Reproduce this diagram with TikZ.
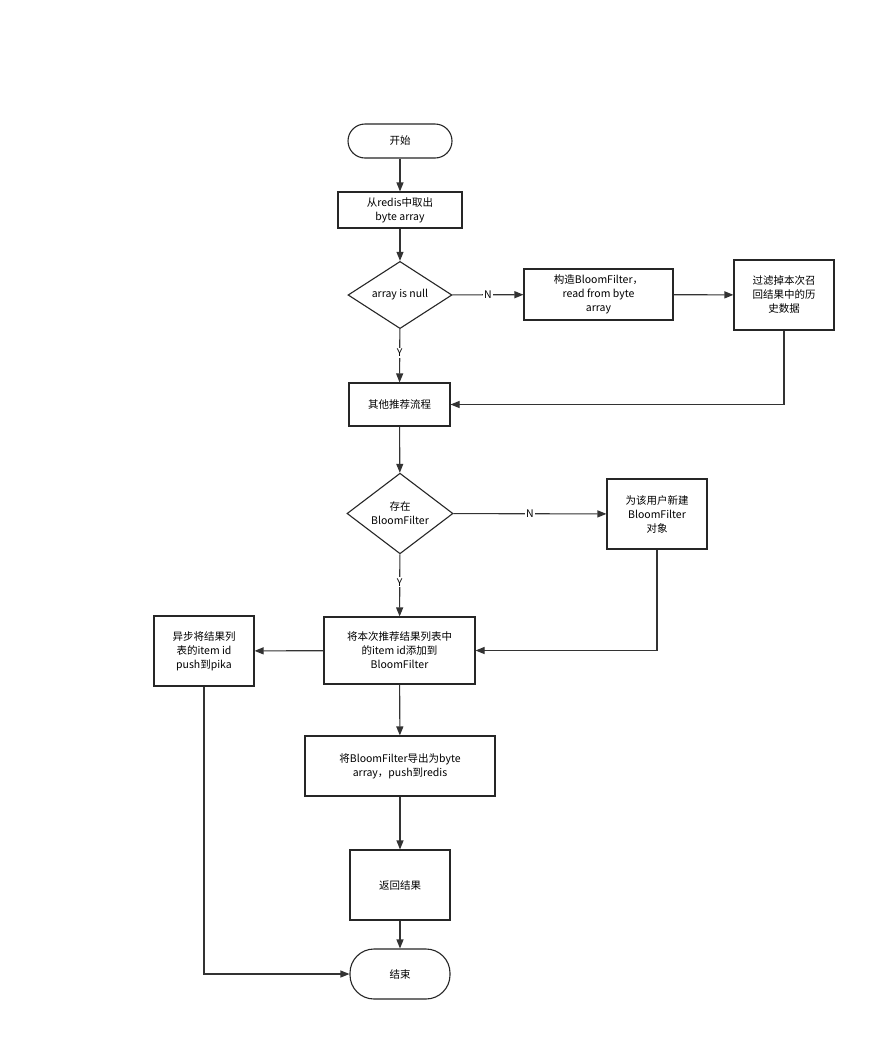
\documentclass[tikz,border=0pt]{standalone}
\usepackage{fontspec}
\setmainfont{Noto Sans CJK SC}
\usetikzlibrary{shapes.geometric,arrows.meta}
\begin{document}
\begin{tikzpicture}[x=1pt,y=-1pt,
  base/.style={draw=black!85,line width=1.1pt,align=center,font=\fontsize{10.5}{14}\selectfont,inner sep=1pt},
  box/.style={base,rectangle},
  term/.style={base,rounded corners=17pt},
  dia/.style={base,diamond},
  arr/.style={draw=black!80,line width=1.1pt,-{Triangle[length=9pt,width=7pt]}},
  lab/.style={fill=white,font=\fontsize{10.5}{12}\selectfont,inner sep=1pt}]
\useasboundingbox[fill=white] (0,0) rectangle (895,1061);
\node[term,minimum width=104pt,minimum height=34pt] (s) at (400,141) {开始};
\node[box,minimum width=124pt,minimum height=36pt] (b1) at (400,210) {从redis中取出\\byte array};
\node[dia,minimum width=104pt,minimum height=66pt,inner sep=0pt] (d1) at (400,295) {array is null};
\node[box,minimum width=149pt,minimum height=51pt] (b2) at (598.5,294.5) {构造BloomFilter，\\read from byte\\array};
\node[box,minimum width=100pt,minimum height=70pt] (b3) at (784,295) {过滤掉本次召\\回结果中的历\\史数据};
\node[box,minimum width=101pt,minimum height=43pt] (b4) at (399.5,404.5) {其他推荐流程};
\node[dia,minimum width=106pt,minimum height=73pt,inner sep=0pt] (d2) at (400,513.5) {存在\\BloomFilter};
\node[box,minimum width=100pt,minimum height=70pt] (b5) at (657,514) {为该用户新建\\BloomFilter\\对象};
\node[box,minimum width=151pt,minimum height=67pt] (b6) at (399.5,650.5) {将本次推荐结果列表中\\的item id添加到\\BloomFilter};
\node[box,minimum width=100pt,minimum height=70pt] (b7) at (204,651) {异步将结果列\\表的item id\\push到pika};
\node[box,minimum width=190pt,minimum height=60pt] (b8) at (400,766) {将BloomFilter导出为byte\\array，push到redis};
\node[box,minimum width=100pt,minimum height=70pt] (b9) at (400,885) {返回结果};
\node[term,rounded corners=24pt,minimum width=100pt,minimum height=50pt] (e) at (400,974) {结束};
\draw[arr] (s) -- (b1);
\draw[arr] (b1) -- (d1);
\draw[arr] (d1) -- node[lab]{N} (b2);
\draw[arr] (b2) -- (b3);
\draw[arr] (d1) -- node[lab,pos=0.45]{Y} (b4);
\draw[arr] (b3.south) |- (b4.east);
\draw[arr] (b4) -- (d2);
\draw[arr] (d2) -- node[lab]{N} (b5);
\draw[arr] (d2) -- node[lab,pos=0.45]{Y} (b6);
\draw[arr] (b5.south) |- (b6.east);
\draw[arr] (b6) -- (b7);
\draw[arr] (b6) -- (b8);
\draw[arr] (b8) -- (b9);
\draw[arr] (b9) -- (e);
\draw[arr] (b7.south) |- (e.west);
\end{tikzpicture}
\end{document}
